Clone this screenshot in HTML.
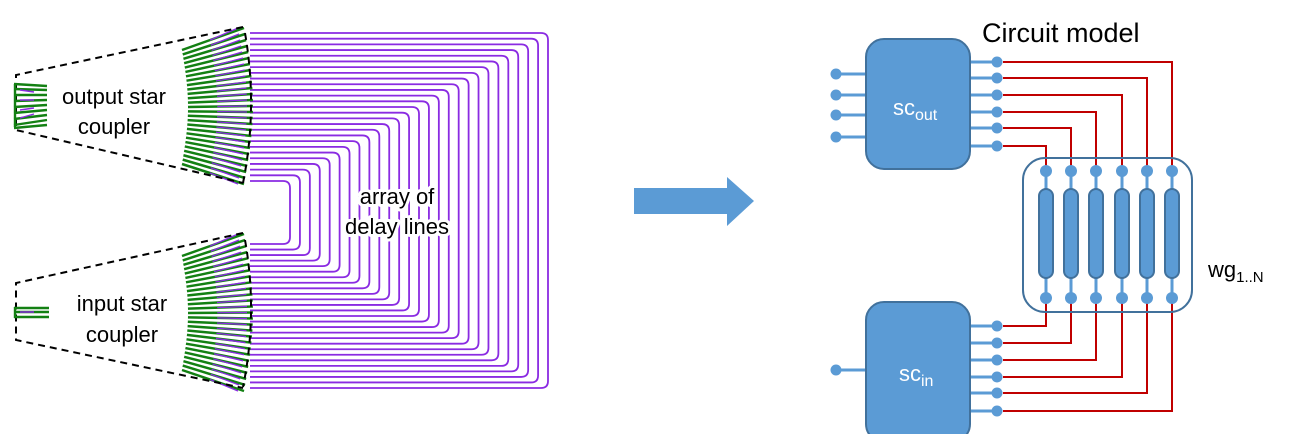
<!DOCTYPE html>
<html><head><meta charset="utf-8"><style>
html,body{margin:0;padding:0;background:#fff;}
svg{display:block;}
text{font-family:"Liberation Sans","DejaVu Sans",sans-serif;}
</style></head><body>
<svg id="s" width="1290" height="434" viewBox="0 0 1290 434" xmlns="http://www.w3.org/2000/svg">
<g id="delay" fill="none" stroke="#8a2be2" stroke-width="1.8"></g>
<g id="fan" stroke-width="2.5"></g>
<g fill="none" stroke="#000" stroke-width="2" stroke-dasharray="7,5">
  <path d="M243,27 L16,75 L16,130 L243,183"/>
  <path d="M245,33 Q258,108 243,183"/>
  <path d="M243,233 L16,283 L16,340 L243,388"/>
  <path d="M245,240 Q258,313 243,387"/>
</g>
<g fill="none" stroke="#138013" stroke-width="2.4">
  <path d="M14,84 L47,86 M14,89 L47,90 M14,95 L47,95 M14,101 L47,100 M14,107 L47,105 M14,113 L47,110 M14,119 L47,115 M14,125 L47,120 M14,128 L47,125"/>
  <path d="M14,308 L49,308 M14,312 L49,312 M14,317 L49,317"/>
  <path d="M15,84 L15,127 M15,307 L15,318"/>
</g>
<g fill="none" stroke="#8a2be2" stroke-width="1.4">
  <path d="M20,90 L34,92 M20,100 L34,100 M20,110 L34,108 M20,118 L34,114 M20,312 L34,312"/>
</g>
<g font-size="22" fill="#000" text-anchor="middle" stroke="#fff" stroke-width="6" paint-order="stroke" stroke-linejoin="round">
  <text x="114" y="104">output star</text>
  <text x="114" y="134">coupler</text>
  <text x="122" y="311">input star</text>
  <text x="122" y="342">coupler</text>
  <text x="397" y="204">array of</text>
  <text x="397" y="234">delay lines</text>
</g>
<path d="M634,188 L727,188 L727,177 L754,201 L727,226 L727,214 L634,214 Z" fill="#5b9bd5"/>
<text x="982" y="42" font-size="27" fill="#000">Circuit model</text>
<g id="circ"></g>
<rect x="866" y="39" width="104" height="130" rx="18" fill="#5b9bd5" stroke="#41719c" stroke-width="2"/>
<rect x="866" y="302" width="104" height="140" rx="18" fill="#5b9bd5" stroke="#41719c" stroke-width="2"/>
<rect x="1023" y="158" width="169" height="154" rx="22" fill="none" stroke="#41719c" stroke-width="2"/>
<g fill="#fff" font-size="22" font-family="DejaVu Sans, sans-serif">
  <text x="893" y="115">sc<tspan font-size="16" dy="5">out</tspan></text>
  <text x="899" y="381">sc<tspan font-size="16" dy="5">in</tspan></text>
</g>
<text x="1208" y="277" font-size="22" fill="#000">wg<tspan font-size="15" dy="5">1..N</tspan></text>
</svg>
<script>
var NS="http://www.w3.org/2000/svg";
function el(p,t,a){var e=document.createElementNS(NS,t);for(var k in a)e.setAttribute(k,a[k]);p.appendChild(e);return e;}
var N=27,delay=document.getElementById('delay'),fan=document.getElementById('fan');
for(var i=0;i<N;i++){
  var yt=33+i*(181-33)/(N-1), yb=388-i*(388-244)/(N-1), xr=548-i*(548-290)/(N-1), r=7;
  el(delay,'path',{d:"M250,"+yt+" L"+(xr-r)+","+yt+" Q"+xr+","+yt+" "+xr+","+(yt+r)+" L"+xr+","+(yb-r)+" Q"+xr+","+yb+" "+(xr-r)+","+yb+" L250,"+yb});
}
function coupler(y0,y1,yl0,yl1){
  for(var i=0;i<N;i++){
    var t=i/(N-1), yr=y0+t*(y1-y0), yl=yl0+t*(yl1-yl0);
    var c=Math.sin(Math.PI*t);
    var xl=182+6*c, xr=244+9*c;
    var xm=xl+(xr-xl)*0.45, ym=yl+(yr-yl)*0.45;
    el(fan,'line',{x1:xl,y1:yl,x2:xr,y2:yr,stroke:"#138013"});
    el(fan,'line',{x1:xm,y1:ym,x2:xr-6,y2:yr,stroke:"#8a2be2","stroke-width":1.3});
  }
}
coupler(28,184,50,164);
coupler(234,391,256,370);
var c=document.getElementById('circ');
var cols=[1046,1071,1096,1122,1147,1172];
var topY=[146,128,112,95,78,62], botY=[326,343,360,377,393,411];
for(var k=0;k<6;k++){
  el(c,'path',{d:"M1003,"+topY[k]+" L"+cols[k]+","+topY[k]+" L"+cols[k]+",171",fill:"none",stroke:"#c00000","stroke-width":2});
  el(c,'path',{d:"M1003,"+botY[k]+" L"+cols[k]+","+botY[k]+" L"+cols[k]+",298",fill:"none",stroke:"#c00000","stroke-width":2});
  el(c,'line',{x1:970,y1:topY[k],x2:997,y2:topY[k],stroke:"#5b9bd5","stroke-width":3});
  el(c,'line',{x1:970,y1:botY[k],x2:997,y2:botY[k],stroke:"#5b9bd5","stroke-width":3});
  el(c,'circle',{cx:997,cy:topY[k],r:5.5,fill:"#5b9bd5"});
  el(c,'circle',{cx:997,cy:botY[k],r:5.5,fill:"#5b9bd5"});
  el(c,'line',{x1:cols[k],y1:171,x2:cols[k],y2:298,stroke:"#5b9bd5","stroke-width":3});
  el(c,'circle',{cx:cols[k],cy:171,r:6,fill:"#5b9bd5"});
  el(c,'circle',{cx:cols[k],cy:298,r:6,fill:"#5b9bd5"});
  el(c,'rect',{x:cols[k]-7,y:189,width:14,height:89,rx:7,fill:"#5b9bd5",stroke:"#41719c","stroke-width":2});
}
[74,95,115,137].forEach(function(y){
  el(c,'line',{x1:836,y1:y,x2:866,y2:y,stroke:"#5b9bd5","stroke-width":3});
  el(c,'circle',{cx:836,cy:y,r:5.5,fill:"#5b9bd5"});
});
el(c,'line',{x1:836,y1:370,x2:866,y2:370,stroke:"#5b9bd5","stroke-width":3});
el(c,'circle',{cx:836,cy:370,r:5.5,fill:"#5b9bd5"});
</script>
</body></html>
